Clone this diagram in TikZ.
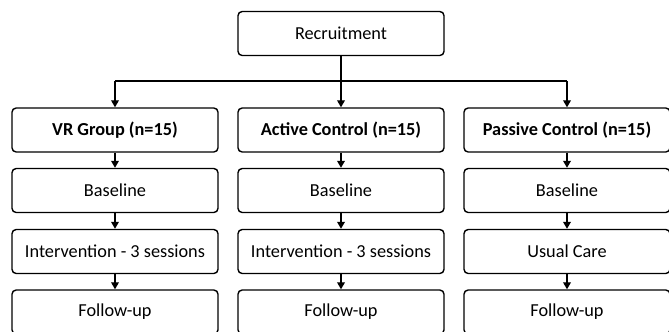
\documentclass[tikz,border=0pt]{standalone}
\usepackage{fontspec}
\setmainfont{Carlito}
\usepackage{tikz}
\usetikzlibrary{arrows.meta}

\tikzset{
	box/.style={draw,line width=1pt,rounded corners=3pt,minimum width=5.15cm,minimum height=1.1cm,inner sep=0pt,font=\fontsize{13}{15}\selectfont},
	head/.style={box,font=\fontsize{13}{15}\selectfont\bfseries}
}

\begin{document}
\begin{tikzpicture}[x=0.025cm,y=-0.025cm,>={Triangle[length=5pt,width=5.5pt]},line width=1pt]
	\useasboundingbox (0,0) rectangle (669,331);
	
	\node[box] (rec) at (341,33.5) {Recruitment};
	\coordinate (split) at (341,81);
	
	\node[head] (vr) at (115,130) {VR Group (n=15)};
	\node[head] (act) at (341,130) {Active Control (n=15)};
	\node[head] (pas) at (567,130) {Passive Control (n=15)};
	
	\node[box] (vrbase) at (115,190.5) {Baseline};
	\node[box] (actbase) at (341,190.5) {Baseline};
	\node[box] (pasbase) at (567,190.5) {Baseline};
	
	\node[box] (vrmid) at (115,251.5) {Intervention - 3 sessions};
	\node[box] (actmid) at (341,251.5) {Intervention - 3 sessions};
	\node[box] (pasmid) at (567,251.5) {Usual Care};
	
	\node[box] (vrfol) at (115,312) {Follow-up};
	\node[box] (actfol) at (341,312) {Follow-up};
	\node[box] (pasfol) at (567,312) {Follow-up};
	
	\draw (rec.south) -- (split);
	\draw (split -| vr) -- (split -| pas);
	\foreach \g in {vr,act,pas}{
		\draw[->] (split -| \g) -- (\g.north);
		\draw[->] (\g.south) -- (\g base.north);
		\draw[->] (\g base.south) -- (\g mid.north);
		\draw[->] (\g mid.south) -- (\g fol.north);
	}
\end{tikzpicture}
\end{document}
